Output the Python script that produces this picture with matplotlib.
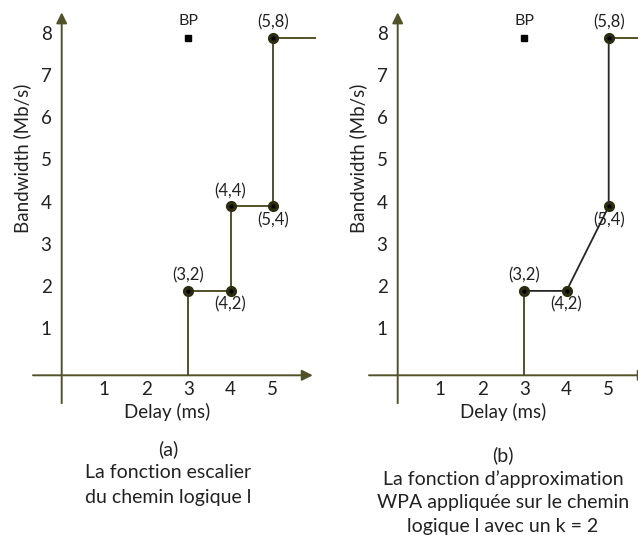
import matplotlib
matplotlib.use("Agg")
import matplotlib.pyplot as plt

plt.rcParams["font.family"] = ["Lato", "DejaVu Sans"]

# data
yticks = [1, 2, 3, 4, 5, 6, 7, 8]
xticks = [1, 2, 3, 4, 5]
bp = (3, 8)

# (a) staircase of logical path
stair_x = [3, 3, 4, 4, 5, 5, 6]
stair_y = [0, 2, 2, 4, 4, 8, 8]
pts_a = [(3, 2), (4, 2), (4, 4), (5, 4), (5, 8)]
lbl_a = [("(3,2)", "above"), ("(4,2)", "below"), ("(4,4)", "above"),
         ("(5,4)", "below"), ("(5,8)", "above")]

# (b) WPA approximation, k = 2
wpa_x = [3, 4, 5, 5]
wpa_y = [2, 2, 4, 8]
pts_b = [(3, 2), (4, 2), (5, 4), (5, 8)]
lbl_b = [("(3,2)", "above"), ("(4,2)", "below"), ("(5,4)", "below"),
         ("(5,8)", "above")]

cap_a = ["(a)", "La fonction escalier", "du chemin logique l"]
cap_b = ["(b)", "La fonction d’approximation",
         "WPA appliquée sur le chemin", "logique l avec un k = 2"]

OLIVE = "#525229"
DARK = "#262626"
PT = "#2c2c0e"
TXT = "#222222"

W, H = 638, 535
UNIT = 42.2  # px per data unit
Y0 = 375.3   # px from top where y = 0

fig = plt.figure(figsize=(W / 100, H / 100), dpi=100)


def make_axes(left, right, x0):
    ax = fig.add_axes([left / W, 0, (right - left) / W, 1])
    ax.set_xlim((left - x0) / UNIT, (right - x0) / UNIT)
    ax.set_ylim((Y0 - H) / UNIT, Y0 / UNIT)
    ax.axis("off")
    arrow = dict(arrowstyle="-|>", color=OLIVE, lw=1.4, mutation_scale=16,
                 shrinkA=0, shrinkB=0)
    ax.annotate("", xy=(0, 8.6), xytext=(0, -0.66), arrowprops=arrow,
                annotation_clip=False)
    ax.annotate("", xy=(5.95, 0), xytext=(-0.68, 0), arrowprops=arrow,
                annotation_clip=False)
    for v in yticks:
        ax.text(-0.24, v + 0.08, str(v), ha="right", va="center", fontsize=13.5, color=TXT)
    for v in xticks:
        ax.text(v, -0.33, str(v), ha="center", va="center", fontsize=13.5, color=TXT)
    ax.text(2.5, -0.86, "Delay (ms)", ha="center", va="center", fontsize=13.5, color=TXT)
    ax.text(-0.94, 5.15, "Bandwidth (Mb/s)", ha="center", va="center",
            rotation=90, fontsize=13.5, color=TXT)
    ax.plot(*bp, marker="s", ms=4.5, color="black", ls="none")
    ax.text(bp[0], bp[1] + 0.39, "BP", ha="center", va="center", fontsize=11.5, color=TXT)
    return ax


def draw_points(ax, pts, labels):
    xs, ys = zip(*pts)
    ax.plot(xs, ys, "o", ms=7, mfc=PT, mec=PT, zorder=5)
    ax.plot(xs, ys, "o", ms=2, color="black", zorder=6)
    for (x, y), (txt, pos) in zip(pts, labels):
        dy = 0.36 if pos == "above" else -0.32
        ax.text(x, y + dy, txt, ha="center", va="center", fontsize=12, color=TXT)


ax_a = make_axes(0, 330, 61.7)
ax_a.plot(stair_x, stair_y, color=OLIVE, lw=1.4)
draw_points(ax_a, pts_a, lbl_a)

ax_b = make_axes(330, 638, 397.7)
ax_b.plot([3, 3], [0, 2], color=OLIVE, lw=1.4)
ax_b.plot([5, 6], [8, 8], color=OLIVE, lw=1.4, clip_on=False)
ax_b.plot(wpa_x, wpa_y, color=DARK, lw=1.3)
draw_points(ax_b, pts_b, lbl_b)

for i, line in enumerate(cap_a):
    fig.text(168 / W, 1 - (449 + 24 * i) / H, line, ha="center", va="center",
             fontsize=14, color=TXT)
for i, line in enumerate(cap_b):
    fig.text(503 / W, 1 - (455 + 23.7 * i) / H, line, ha="center", va="center",
             fontsize=14, color=TXT)

fig.savefig("out.png", dpi=100)
